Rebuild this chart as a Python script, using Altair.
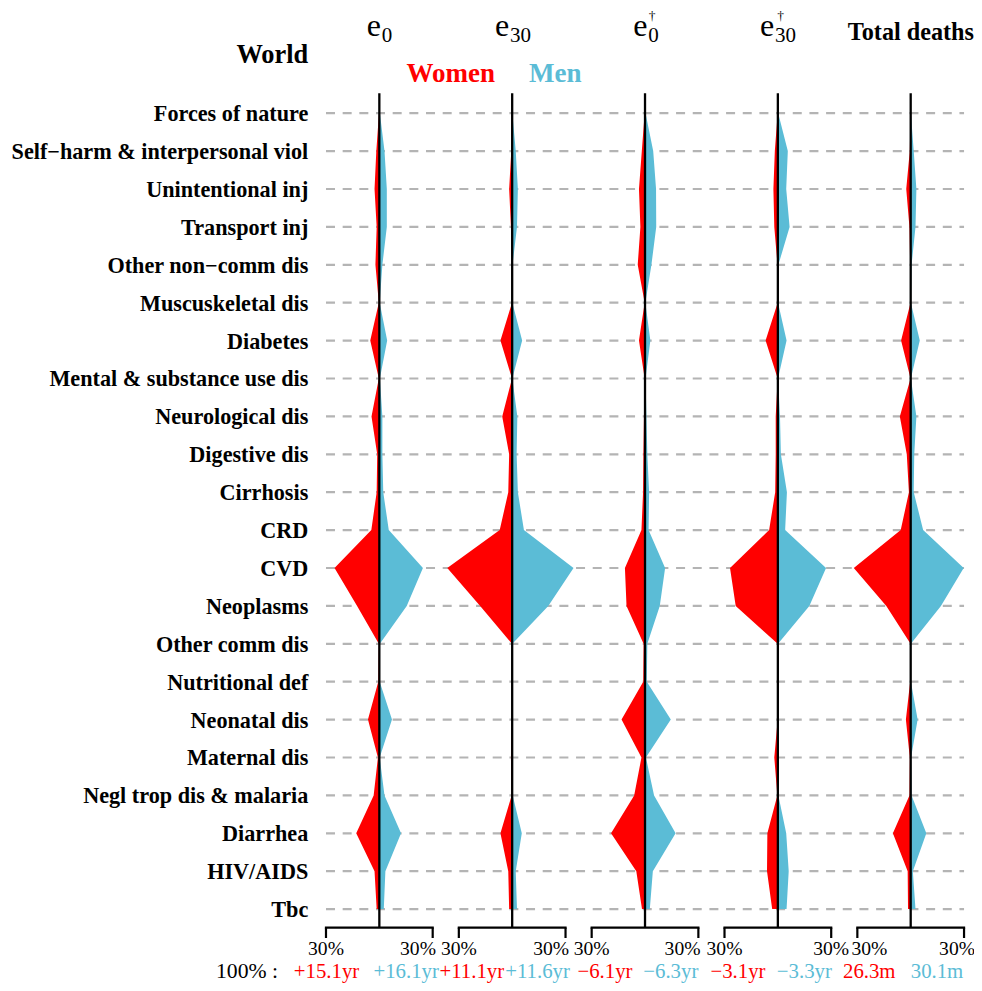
import altair as alt
import pandas as pd

# ---------------- data ----------------
causes = [
    "Forces of nature", "Self\u2212harm & interpersonal viol", "Unintentional inj",
    "Transport inj", "Other non\u2212comm dis", "Muscuskeletal dis", "Diabetes",
    "Mental & substance use dis", "Neurological dis", "Digestive dis", "Cirrhosis",
    "CRD", "CVD", "Neoplasms", "Other comm dis", "Nutritional def", "Neonatal dis",
    "Maternal dis", "Negl trop dis & malaria", "Diarrhea", "HIV/AIDS", "Tbc",
]

panels = ["e0", "e30", "e0dag", "e30dag", "total"]

# percentage contributions (women drawn to the left, men to the right)
women_e0 = [0.2, 1.7, 2.7, 1.5, 2.2, 0.3, 5.1, 0.3, 4.4, 1.2, 1.5, 4.5, 25.2, 12.5, 0.3, 0.6, 6.4, 0.8, 3.2, 13.0, 2.7, 1.5]
men_e0 = [0.3, 2.9, 4.2, 4.2, 1.7, 0.2, 4.4, 0.3, 1.7, 1.7, 2.2, 5.3, 24.5, 15.4, 0.3, 0.2, 7.1, 0.2, 2.9, 12.2, 3.4, 2.5]

women_e30 = [0.1, 0.5, 1.7, 0.7, 0.2, 0.1, 6.6, 0.1, 5.6, 1.7, 2.2, 7.0, 36.5, 18.0, 0.1, 0.1, 0.1, 0.7, 0.3, 6.6, 2.2, 1.7]
men_e30 = [0.1, 2.0, 3.2, 2.7, 0.2, 0.1, 5.6, 0.1, 2.9, 2.5, 3.2, 6.6, 34.5, 20.3, 0.1, 0.1, 0.1, 0.0, 0.3, 5.4, 2.0, 2.7]

women_e0dag = [0.2, 1.8, 3.4, 2.6, 4.1, 0.2, 3.4, 0.2, 0.6, 0.9, 1.1, 2.0, 11.3, 10.4, 0.8, 1.0, 13.2, 2.0, 6.1, 19.1, 4.9, 1.7]
men_e0dag = [0.3, 4.6, 6.2, 6.3, 3.6, 0.2, 3.0, 0.3, 0.8, 1.3, 2.3, 2.0, 11.3, 8.3, 1.3, 1.0, 14.5, 0.5, 5.1, 17.2, 4.4, 2.7]

women_e30dag = [0.1, 1.7, 2.5, 2.0, 0.2, 0.1, 6.9, 0.1, 1.2, 1.2, 1.5, 4.9, 26.9, 23.7, 0.1, 0.1, 0.1, 2.0, 0.3, 5.9, 6.1, 3.2]
men_e30dag = [0.2, 5.6, 4.7, 6.6, 0.3, 0.1, 4.9, 0.1, 1.2, 1.7, 5.1, 4.1, 27.1, 17.7, 0.1, 0.1, 0.1, 0.0, 0.3, 4.7, 6.1, 4.9]

women_total = [0.1, 0.5, 2.5, 0.7, 0.3, 0.1, 5.4, 0.1, 6.1, 2.2, 1.0, 5.6, 32.0, 13.7, 0.1, 0.3, 2.7, 0.5, 0.7, 10.0, 1.7, 1.5]
men_total = [0.1, 1.7, 3.2, 2.7, 0.5, 0.1, 5.1, 0.1, 3.2, 2.0, 1.7, 7.0, 29.8, 17.0, 0.1, 0.1, 3.9, 0.2, 0.5, 8.8, 1.2, 2.7]

totals_women = ["+15.1yr", "+11.1yr", "\u22126.1yr", "\u22123.1yr", "26.3m"]
totals_men = ["+16.1yr", "+11.6yr", "\u22126.3yr", "\u22123.3yr", "30.1m"]

tick_values = [-30, 30]
tick_labels = ["30%", "30%"]

# ---------------- layout ----------------
RED = "#FF0000"
BLUE = "#5BBCD6"
GRAY = "#B4B4B4"
FONT = "Liberation Serif"
W, H = 966, 975
GAP = 74.7                      # panel spacing in % units
XMIN, XMAX = -208.82, 334.40
YMIN, YMAX = -2.7757, 22.950
PX = 1.7783                     # pixels per % unit
# horizontal position of each "30%" label, relative to its tick (px)
TICK_LABEL_SHIFT = [[0, -14.7], [0, -14.4], [0, -15.8], [0, 0], [12, -7]]
LABEL_DX_W = [-29.7, -22.7, -22.5, -22.4, -23.3]
LABEL_DX_M = [15.1, 14.3, 14.5, 14.9, 14.8]

X = alt.Scale(domain=[XMIN, XMAX], nice=False, zero=False)
Y = alt.Scale(domain=[YMIN, YMAX], reverse=True, nice=False, zero=False)
SEX = alt.Scale(domain=["Women", "Men"], range=[RED, BLUE])

series = {
    "e0": (women_e0, men_e0), "e30": (women_e30, men_e30),
    "e0dag": (women_e0dag, men_e0dag), "e30dag": (women_e30dag, men_e30dag),
    "total": (women_total, men_total),
}

recs = []
for k, p in enumerate(panels):
    off = k * GAP
    w, m = series[p]
    for i in range(len(causes)):
        recs.append({"grp": f"{p}-W", "sex": "Women", "row": i, "xa": off - w[i], "xb": off})
    for i in range(len(causes)):
        recs.append({"grp": f"{p}-M", "sex": "Men", "row": i, "xa": off + m[i], "xb": off})
area_df = pd.DataFrame(recs)

rows_df = pd.DataFrame({"row": list(range(len(causes))), "cause": causes,
                        "xs": -30.0, "xe": (len(panels) - 1) * GAP + 30.0})

panel_df = pd.DataFrame({"panel": panels,
                         "off": [k * GAP for k in range(len(panels))]})
panel_df["lo"] = panel_df["off"] + tick_values[0]
panel_df["hi"] = panel_df["off"] + tick_values[1]

tick_df = pd.DataFrame([{"x": k * GAP + t, "lab": l}
                        for k in range(len(panels)) for t, l in zip(tick_values, tick_labels)])
tick_lab_df = pd.DataFrame([{"x": k * GAP + t + TICK_LABEL_SHIFT[k][j] / PX, "lab": l}
                            for k in range(len(panels))
                            for j, (t, l) in enumerate(zip(tick_values, tick_labels))])

val_df = pd.DataFrame(
    [{"x": k * GAP + LABEL_DX_W[k], "lab": totals_women[k], "sex": "Women"} for k in range(5)]
    + [{"x": k * GAP + LABEL_DX_M[k], "lab": totals_men[k], "sex": "Men"} for k in range(5)]
)

one = pd.DataFrame({"a": [0]})

dashed = alt.Chart(rows_df).mark_rule(color=GRAY, strokeWidth=2.2, strokeDash=[9, 7.67]).encode(
    x=alt.X("xs:Q", scale=X, axis=None), x2="xe:Q",
    y=alt.Y("row:Q", scale=Y, axis=None))

areas = alt.Chart(area_df).mark_area(orient="horizontal").encode(
    y=alt.Y("row:Q", scale=Y, axis=None),
    x=alt.X("xa:Q", scale=X, axis=None),
    x2=alt.X2("xb"),
    color=alt.Color("sex:N", scale=SEX, legend=None),
    detail="grp:N")

vlines = alt.Chart(panel_df).mark_rule(color="black", strokeWidth=2.3).encode(
    x=alt.X("off:Q", scale=X, axis=None), y=alt.value(85.3), y2=alt.value(919.7))

bracket = alt.Chart(panel_df).mark_rule(color="black", strokeWidth=2.2, strokeCap="square").encode(
    x=alt.X("lo:Q", scale=X, axis=None), x2="hi:Q", y=alt.value(919.7))

ticks = alt.Chart(tick_df).mark_rule(color="black", strokeWidth=2.2).encode(
    x=alt.X("x:Q", scale=X, axis=None), y=alt.value(919.7), y2=alt.value(930))

tick_text = alt.Chart(tick_lab_df).mark_text(font=FONT, fontSize=19.6, baseline="alphabetic",
                                             align="center", color="black").encode(
    x=alt.X("x:Q", scale=X, axis=None), y=alt.value(947), text="lab:N")

row_text = alt.Chart(rows_df).mark_text(font=FONT, fontSize=22.2, fontWeight="bold", align="right",
                                        baseline="middle", dy=1, color="black").encode(
    x=alt.value(300.3), y=alt.Y("row:Q", scale=Y, axis=None), text="cause:N")

val_text = alt.Chart(val_df).mark_text(font=FONT, fontSize=20.8, baseline="alphabetic", align="center").encode(
    x=alt.X("x:Q", scale=X, axis=None), y=alt.value(970), text="lab:N",
    color=alt.Color("sex:N", scale=SEX, legend=None))


def txt(s, x, y, size, weight="normal", color="black", align="left"):
    return alt.Chart(one).mark_text(text=s, font=FONT, fontSize=size, fontWeight=weight,
                                    color=color, align=align, baseline="alphabetic").encode(
        x=alt.value(x), y=alt.value(y))


headers = [
    txt("World", 300.3, 55.3, 26.4, "bold", align="right"),
    txt("Women", 487, 73.7, 27, "bold", RED, "right"),
    txt("Men", 521, 73.7, 27, "bold", BLUE, "left"),
    txt("Total deaths", 902.9, 32, 24.2, "bold", align="center"),
    txt("e", 358.7, 28, 32), txt("0", 373.7, 33.5, 21),
    txt("e", 487, 28, 32), txt("30", 502, 33.5, 21),
    txt("e", 625.3, 28, 32), txt("0", 640.3, 33.5, 21), txt("\u2020", 644, 12, 13.5, align="center"),
    txt("e", 752, 28, 32), txt("30", 767, 33.5, 21), txt("\u2020", 772.5, 12, 13.5, align="center"),
    txt("100% :", 208, 970, 21.7),
]

chart = alt.layer(dashed, areas, vlines, bracket, ticks, tick_text, row_text, val_text, *headers).properties(
    width=W, height=H, padding=0, autosize=alt.AutoSizeParams(type="none")
).configure_view(stroke=None)

chart.save("out.html", embed_options={"renderer": "svg", "actions": False})
